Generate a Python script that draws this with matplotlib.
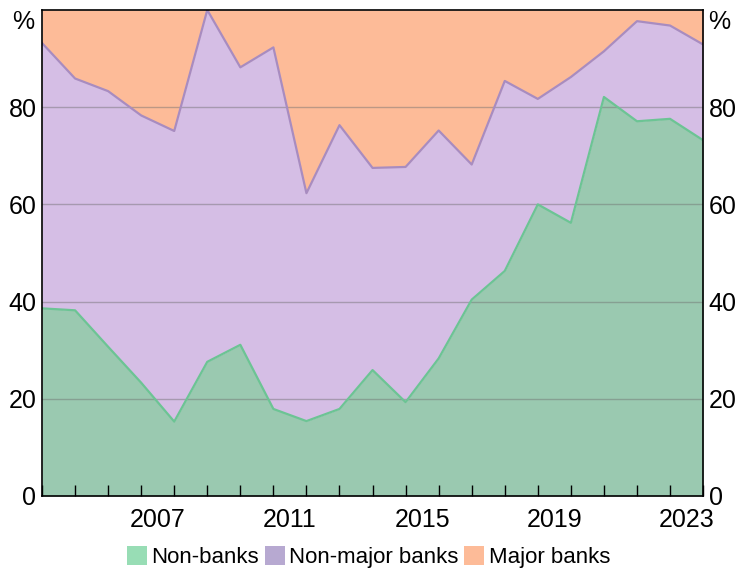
import matplotlib
matplotlib.use("Agg")
import matplotlib.pyplot as plt
import numpy as np
from matplotlib.patches import Patch

plt.rcParams['font.family'] = ['Liberation Sans', 'DejaVu Sans']

years = list(range(2003, 2024))
non_banks = [38.6, 38.2, 30.7, 23.3, 15.3, 27.6, 31.1, 17.9, 15.4, 17.9, 25.9,
             19.3, 28.3, 40.4, 46.3, 60.0, 56.2, 82.1, 77.1, 77.6, 73.2]
non_major = [54.6, 47.7, 52.6, 55.0, 59.8, 72.4, 57.1, 74.4, 46.9, 58.4, 41.6,
             48.4, 46.9, 27.8, 39.1, 21.7, 30.0, 9.4, 20.6, 19.2, 19.7]
major = [6.8, 14.1, 16.7, 21.7, 24.9, 0.0, 11.8, 7.7, 37.7, 23.7, 32.5,
         32.3, 24.8, 31.8, 14.6, 18.3, 13.8, 8.5, 2.3, 3.2, 7.1]
labels = ['Non-banks', 'Non-major banks', 'Major banks']
year_labels = ['2007', '2011', '2015', '2019', '2023']

x = np.array(years) + 1.0  # end of each year
nb = np.array(non_banks)
nm = nb + np.array(non_major)
mj = nm + np.array(major)

fig = plt.figure(figsize=(7.37, 5.74), dpi=100)
ax = fig.add_axes([0.057, 0.136, 0.897, 0.8466])

fill_g = '#9AC9B0'
fill_p = '#D5BEE5'
fill_o = '#FDBB98'
line_g = '#6CC494'
line_p = '#A88CC0'

ax.fill_between(x, 0, nb, color=fill_g, lw=0, zorder=1)
ax.fill_between(x, nb, nm, color=fill_p, lw=0, zorder=1)
ax.fill_between(x, nm, mj, color=fill_o, lw=0, zorder=1)
ax.plot(x, nm, color=line_p, lw=1.6, zorder=3)
ax.plot(x, nb, color=line_g, lw=1.6, zorder=3)

for g in [20, 40, 60, 80]:
    ax.axhline(g, color='#6e6e6e', alpha=0.45, lw=1.0, zorder=2)

ax.set_xlim(2004, 2024)
ax.set_ylim(0, 100)
ax.set_xticks(np.arange(2004, 2025))
ax.set_xticklabels([])
ax.set_xticks([int(y) + 0.5 for y in year_labels], minor=True)
ax.set_xticklabels(year_labels, minor=True)
ax.tick_params(axis='x', which='major', direction='in', length=8, width=1, color='black')
ax.tick_params(axis='x', which='minor', length=0, labelsize=18, pad=9)

ax.set_yticks([0, 20, 40, 60, 80])
ax.set_yticklabels(['0', '20', '40', '60', '80'])
ax.tick_params(axis='y', which='both', length=0, labelsize=18, labelleft=True,
               labelright=True, pad=4)

for s in ax.spines.values():
    s.set_color('black')
    s.set_linewidth(1.2)
    s.set_zorder(5)

ax.text(-0.012, 1.0, '%', transform=ax.transAxes, ha='right', va='top', fontsize=18)
ax.text(1.008, 1.0, '%', transform=ax.transAxes, ha='left', va='top', fontsize=18)

handles = [Patch(facecolor='#98DDB5', edgecolor='none'),
           Patch(facecolor='#B7A9D1', edgecolor='none'),
           Patch(facecolor='#FDBB98', edgecolor='none')]
fig.legend(handles, labels, loc='center', bbox_to_anchor=(0.5, 0.029), ncol=3,
           frameon=False, fontsize=16, handlelength=0.9, handleheight=0.9,
           handletextpad=0.2, columnspacing=0.25, borderaxespad=0)

fig.savefig('out.png', dpi=100)
